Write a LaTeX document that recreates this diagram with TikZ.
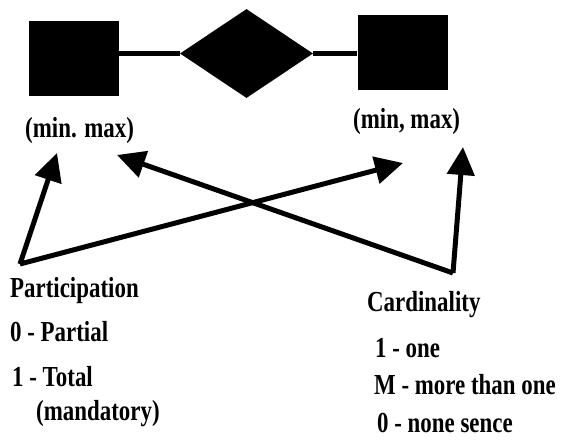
\documentclass[tikz,border=0pt]{standalone}
\usepackage{fontspec}
\setmainfont{Liberation Serif}[FakeStretch=0.79]
\usetikzlibrary{shapes.geometric,arrows.meta}
\begin{document}
\begin{tikzpicture}[x=1pt,y=-1pt,
  entity/.style={draw=none,fill=black,rectangle,inner sep=0pt,minimum width=90pt,minimum height=75pt},
  relation/.style={draw=none,fill=black,diamond,inner sep=0pt,minimum width=133pt,minimum height=89pt},
  link/.style={line width=4.5pt},
  pointer/.style={line width=5pt,-{Triangle[length=28pt,width=27pt]}},
  txt/.style={anchor=base west,inner sep=0pt,font=\fontsize{29}{34}\selectfont\bfseries}]
\useasboundingbox (0,0) rectangle (562,439);

% ER skeleton: entity -- relationship -- entity
\node[entity] (e1) at (73.5,58.5) {};
\node[relation] (rel) at (246.5,53.5) {};
\node[entity] (e2) at (402.5,52.5) {};
\draw[link] (rel.west) -- (rel.west -| e1.east);
\draw[link] (rel.east) -- (rel.east -| e2.west);

% (min, max) labels
\node[txt] (lblL) at (25,137) {(min. max)};
\node[txt] (lblR) at (353,128) {(min, max)};

% arrow origins and targets
\coordinate (pSrc) at (20,264);
\coordinate (cSrc) at (453,273);
\coordinate (tMinL) at (57,153);
\coordinate (tMaxL) at (117,155);
\coordinate (tMinR) at (403,163);
\coordinate (tMaxR) at (463,147);

\draw[pointer] (pSrc) -- (tMinL);
\draw[pointer] (pSrc) -- (tMinR);
\draw[pointer] (cSrc) -- (tMaxL);
\draw[pointer] (cSrc) -- (tMaxR);

% legends
\node[txt] (part) at (10,297) {Participation};
\node[txt] (part0) at (10,341) {0 - Partial};
\node[txt] (part1) at (12,386) {1 - Total};
\node[txt] (part1b) at (36,420) {(mandatory)};

\node[txt] (card) at (367,311) {Cardinality};
\node[txt] (card1) at (375,357) {1 - one};
\node[txt] (cardM) at (374,394) {M - more than one};
\node[txt] (card0) at (377,432) {0 - none sence};
\end{tikzpicture}
\end{document}
